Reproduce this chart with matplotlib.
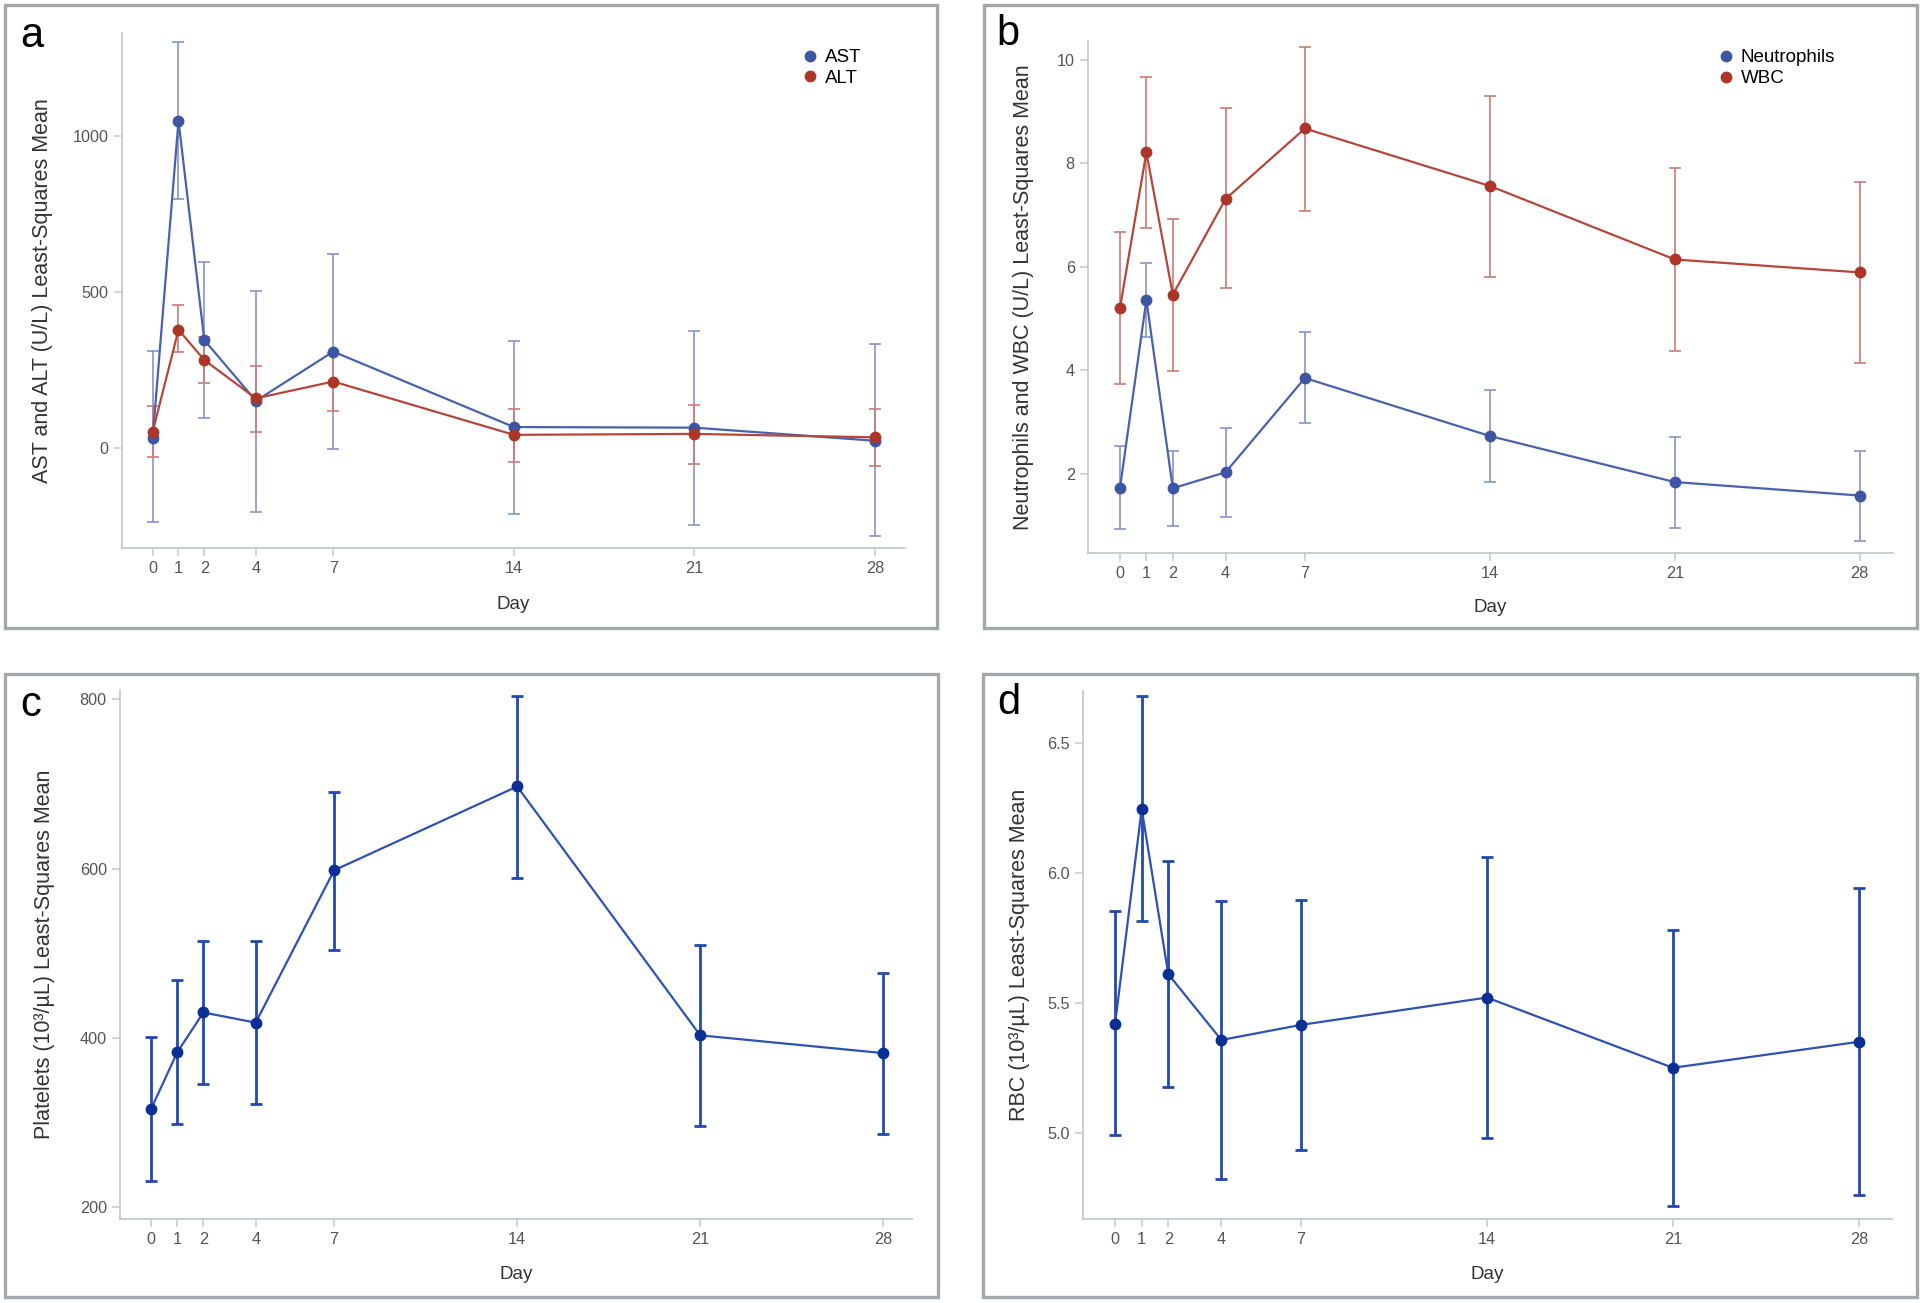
import numpy as np
import matplotlib
matplotlib.use("Agg")
import matplotlib.pyplot as plt
from matplotlib.patches import Rectangle

plt.rcParams['font.family'] = ['Liberation Sans', 'DejaVu Sans']

# study days (shared x axis)
days = [0, 1, 2, 4, 7, 14, 21, 28]

# panel a: liver enzymes (LS mean with 95% CI)
ast_mean = [32, 1049, 345, 150, 308, 66, 64, 22]
ast_lo = [-240, 799, 94, -208, -5, -213, -249, -285]
ast_hi = [310, 1300, 597, 503, 620, 342, 375, 332]
alt_mean = [51, 378, 281, 158, 212, 41, 44, 33]
alt_lo = [-31, 306, 207, 51, 119, -46, -51, -59]
alt_hi = [132, 456, 354, 263, 305, 123, 137, 125]

# panel b: neutrophils and WBC
neut_mean = [1.72, 5.36, 1.72, 2.03, 3.85, 2.73, 1.84, 1.58]
neut_lo = [0.94, 4.64, 1.00, 1.16, 2.98, 1.85, 0.96, 0.71]
neut_hi = [2.53, 6.07, 2.44, 2.89, 4.74, 3.62, 2.71, 2.44]
wbc_mean = [5.20, 8.21, 5.46, 7.31, 8.67, 7.56, 6.14, 5.89]
wbc_lo = [3.74, 6.74, 3.99, 5.58, 7.07, 5.80, 4.38, 4.14]
wbc_hi = [6.67, 9.67, 6.92, 9.07, 10.25, 9.30, 7.90, 7.64]

# panel c: platelets
plt_mean = [316, 383, 430, 418, 598, 697, 403, 382]
plt_lo = [231, 298, 346, 322, 504, 589, 296, 287]
plt_hi = [401, 468, 515, 514, 691, 804, 510, 477]

# panel d: RBC
rbc_mean = [5.42, 6.245, 5.61, 5.357, 5.415, 5.52, 5.25, 5.35]
rbc_lo = [4.99, 5.813, 5.178, 4.823, 4.936, 4.98, 4.72, 4.76]
rbc_hi = [5.851, 6.678, 6.043, 5.892, 5.894, 6.06, 5.78, 5.94]

BLUE_PT = '#3d55a2'
BLUE_LN = '#4a61ab'
BLUE_EB = '#8894c9'
RED_PT = '#ad3527'
RED_LN = '#b4473a'
RED_EB = '#c97c74'
DARK_PT = '#0a2f96'
DARK_LN = '#2d52b2'
DARK_EB = '#2349af'
SPINE = '#c5c9cb'
TICKTXT = '#555555'

W, H = 1920, 1303
fig = plt.figure(figsize=(W / 100, H / 100), dpi=100)


def px_axes(x0, y0, x1, y1):
    return fig.add_axes([x0 / W, 1 - y1 / H, (x1 - x0) / W, (y1 - y0) / H])


def panel_box(x0, y0, x1, y1):
    fig.patches.append(Rectangle((x0 / W, 1 - y1 / H), (x1 - x0) / W, (y1 - y0) / H,
                                 transform=fig.transFigure, fill=False,
                                 edgecolor='#a2a7aa', linewidth=2.4, zorder=0))


def style(ax, xlim, ylim, yticks, ylabel, ylab_x, xlab_y, yfmt=None):
    for s in ['top', 'right']:
        ax.spines[s].set_visible(False)
    for s in ['left', 'bottom']:
        ax.spines[s].set_color(SPINE)
        ax.spines[s].set_linewidth(1.3)
    ax.set_xlim(*xlim)
    ax.set_ylim(*ylim)
    ax.set_xticks(days)
    ax.set_xticklabels([str(d) for d in days])
    ax.set_yticks(yticks)
    if yfmt:
        ax.set_yticklabels([yfmt.format(v) for v in yticks])
    ax.tick_params(colors=SPINE, labelcolor=TICKTXT, labelsize=11.7, length=5.5, width=1.1, pad=4)
    ax.set_xlabel('Day', fontsize=13.5, color='#333333')
    ax.xaxis.set_label_coords(0.5, xlab_y)
    ax.set_ylabel(ylabel, fontsize=15.5, color='#333333')
    ax.yaxis.set_label_coords(ylab_x, 0.5)


def series(ax, mean, lo, hi, pt, ln, eb, lbl=None, zpt=4, eb_lw=1.2, lw=1.6, ms=7.5):
    m = np.array(mean, dtype=float)
    err = [m - np.array(lo), np.array(hi) - m]
    ax.errorbar(days, m, yerr=err, fmt='none', ecolor=eb, elinewidth=eb_lw,
                capsize=4.2, capthick=eb_lw, zorder=2)
    ax.plot(days, m, color=ln, lw=lw, zorder=3)
    ax.plot(days, m, 'o', color=pt, ms=ms, zorder=zpt, label=lbl, linestyle='none')


legend_kw = dict(loc='upper left', frameon=False, fontsize=13.5, handlelength=0.6,
                 handletextpad=0.5, labelspacing=0.2, borderpad=0, borderaxespad=0)

# ---- panel a
panel_box(5, 5, 937, 628)
ax_a = px_axes(122, 33, 905, 548)
series(ax_a, ast_mean, ast_lo, ast_hi, BLUE_PT, BLUE_LN, BLUE_EB, 'AST', zpt=4)
series(ax_a, alt_mean, alt_lo, alt_hi, RED_PT, RED_LN, RED_EB, 'ALT', zpt=5)
style(ax_a, (-1.19, 29.16), (-322, 1330), [0, 500, 1000],
      'AST and ALT (U/L) Least-Squares Mean', -0.088, -0.093)
ax_a.legend(bbox_to_anchor=(0.872, 0.969), **legend_kw)

# ---- panel b
panel_box(984, 5, 1917, 628)
ax_b = px_axes(1088, 41, 1893, 553)
series(ax_b, neut_mean, neut_lo, neut_hi, BLUE_PT, BLUE_LN, BLUE_EB, 'Neutrophils', zpt=5)
series(ax_b, wbc_mean, wbc_lo, wbc_hi, RED_PT, RED_LN, RED_EB, 'WBC', zpt=4)
style(ax_b, (-1.21, 29.26), (0.47, 10.36), [2, 4, 6, 8, 10],
      'Neutrophils and WBC (U/L) Least-Squares Mean', -0.067, -0.09)
ax_b.legend(bbox_to_anchor=(0.785, 0.984), **legend_kw)

# ---- panel c
panel_box(5, 674, 938, 1297)
ax_c = px_axes(120, 690, 912, 1219)
series(ax_c, plt_mean, plt_lo, plt_hi, DARK_PT, DARK_LN, DARK_EB, eb_lw=2.0, lw=1.6)
style(ax_c, (-1.19, 29.1), (186, 811), [200, 400, 600, 800],
      'Platelets (10³/µL) Least-Squares Mean', -0.082, -0.089)

# ---- panel d
panel_box(983, 674, 1917, 1297)
ax_d = px_axes(1083, 691, 1892, 1219)
series(ax_d, rbc_mean, rbc_lo, rbc_hi, DARK_PT, DARK_LN, DARK_EB, eb_lw=2.0, lw=1.6)
style(ax_d, (-1.21, 29.25), (4.669, 6.698), [5.0, 5.5, 6.0, 6.5],
      'RBC (10³/µL) Least-Squares Mean', -0.0655, -0.089, yfmt='{:.1f}')

# panel letters
for lab, (px, py) in zip('abcd', [(20, 36), (996, 34), (20, 705), (997, 703)]):
    fig.text(px / W, 1 - py / H, lab, fontsize=30, color='black', ha='left', va='center')

fig.savefig('out.png', dpi=100, facecolor='white')
